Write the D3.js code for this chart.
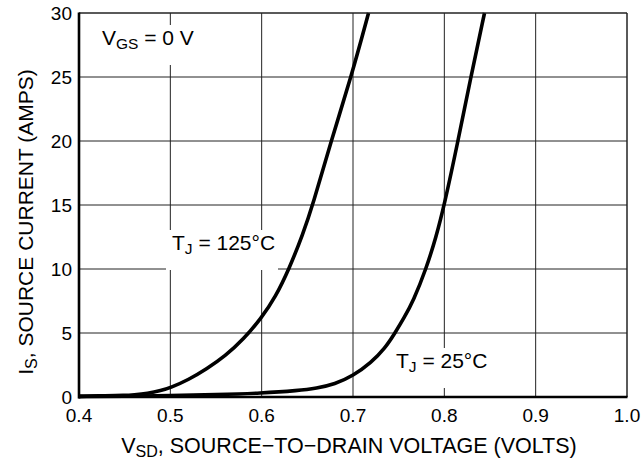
<!DOCTYPE html>
<html>
<head>
<meta charset="utf-8">
<script src="https://cdn.jsdelivr.net/npm/d3@7"></script>
<style>
  html, body { margin: 0; padding: 0; background: #fff; }
  svg { display: block; font-family: "Liberation Sans", Arial, Helvetica, sans-serif; }
</style>
</head>
<body>
<svg id="chart" width="644" height="462"></svg>
<script>
// ---- data ----
const xTicks = [0.4, 0.5, 0.6, 0.7, 0.8, 0.9, 1.0];
const xTickLabels = ["0.4", "0.5", "0.6", "0.7", "0.8", "0.9", "1.0"];
const yTicks = [0, 5, 10, 15, 20, 25, 30];
const yTickLabels = ["0", "5", "10", "15", "20", "25", "30"];

// T_J = 125°C
const vsd125 = [0.40, 0.43, 0.45, 0.46, 0.475, 0.49, 0.50, 0.52, 0.54, 0.56, 0.58, 0.60, 0.615, 0.63, 0.645, 0.656, 0.676, 0.698, 0.717];
const is125  = [0.08, 0.09, 0.12, 0.17, 0.28,  0.50, 0.72, 1.35, 2.2,  3.2,  4.5,  6.2,  7.8,   10,   12.7,  15,    20,    25,    30];

// T_J = 25°C
const vsd25 = [0.40, 0.45, 0.50, 0.55, 0.60, 0.64, 0.66, 0.68, 0.70, 0.72, 0.735, 0.746, 0.756, 0.766, 0.78, 0.791, 0.80, 0.815, 0.829, 0.844];
const is25  = [0.03, 0.05, 0.10, 0.18, 0.30, 0.50, 0.68, 1.0,  1.65, 2.7,  3.8,   5.0,   6.2,   7.5,   10,   12.5,  15,   20,    25,    30];

// ---- layout ----
const svg = d3.select("#chart");
const L = 79, R = 627, T = 13, B = 397;
const x = d3.scaleLinear().domain([0.4, 1.0]).range([L, R]);
const y = d3.scaleLinear().domain([0, 30]).range([B, T]);

// grid
const grid = svg.append("g");
grid.selectAll("line.v").data(xTicks.slice(1)).join("line")
  .attr("x1", d => x(d)).attr("x2", d => x(d))
  .attr("y1", T).attr("y2", B)
  .attr("stroke", "#222").attr("stroke-width", 1);
grid.selectAll("line.h").data(yTicks.slice(1)).join("line")
  .attr("x1", L).attr("x2", R)
  .attr("y1", d => y(d)).attr("y2", d => y(d))
  .attr("stroke", "#222").attr("stroke-width", 1);

// annotation boxes (mask grid lines)
function annot(xp, yp, main, sub, rest, boxW) {
  svg.append("rect").attr("x", xp - 6).attr("y", yp - 20).attr("width", boxW).attr("height", 40).attr("fill", "#fff");
  const t = svg.append("text").attr("x", xp).attr("y", yp).attr("font-size", 21).attr("fill", "#000");
  t.append("tspan").text(main);
  t.append("tspan").attr("font-size", 15.5).attr("dy", 4).text(sub);
  t.append("tspan").attr("dy", -4).text(rest);
}
annot(102, 45, "V", "GS", " = 0 V", 104);
annot(172, 250, "T", "J", " = 125°C", 112);
annot(396, 368, "T", "J", " = 25°C", 100);

// curves
const line = d3.line().x(d => x(d[0])).y(d => y(d[1])).curve(d3.curveBasis);
svg.append("path").datum(vsd125.map((v, i) => [v, is125[i]]))
  .attr("d", line).attr("fill", "none").attr("stroke", "#000").attr("stroke-width", 3.6).attr("stroke-linejoin", "round");
svg.append("path").datum(vsd25.map((v, i) => [v, is25[i]]))
  .attr("d", line).attr("fill", "none").attr("stroke", "#000").attr("stroke-width", 3.6).attr("stroke-linejoin", "round");

// frame
svg.append("line").attr("x1", L).attr("x2", R).attr("y1", T).attr("y2", T).attr("stroke", "#222").attr("stroke-width", 1);
svg.append("line").attr("x1", R).attr("x2", R).attr("y1", T).attr("y2", B).attr("stroke", "#222").attr("stroke-width", 1);
svg.append("line").attr("x1", L).attr("x2", L).attr("y1", T - 0.5).attr("y2", B + 1.5).attr("stroke", "#000").attr("stroke-width", 2.6);
svg.append("line").attr("x1", L - 1).attr("x2", R + 0.5).attr("y1", B).attr("y2", B).attr("stroke", "#000").attr("stroke-width", 2.6);

// tick labels
svg.append("g").selectAll("text").data(xTicks).join("text")
  .attr("x", d => x(d)).attr("y", 422)
  .attr("text-anchor", "middle").attr("font-size", 19).attr("fill", "#000")
  .text((d, i) => xTickLabels[i]);
svg.append("g").selectAll("text").data(yTicks).join("text")
  .attr("x", 72).attr("y", d => y(d) + 6.5)
  .attr("text-anchor", "end").attr("font-size", 19).attr("fill", "#000")
  .text((d, i) => yTickLabels[i]);

// axis titles
const xt = svg.append("text").attr("x", 349).attr("y", 453)
  .attr("text-anchor", "middle").attr("font-size", 21.5).attr("fill", "#000");
xt.append("tspan").text("V");
xt.append("tspan").attr("font-size", 16).attr("dy", 4).text("SD");
xt.append("tspan").attr("dy", -4).text(", SOURCE\u2212TO\u2212DRAIN VOLTAGE (VOLTS)");

const yt = svg.append("text").attr("transform", "translate(33,222) rotate(-90)")
  .attr("text-anchor", "middle").attr("font-size", 21).attr("fill", "#000");
yt.append("tspan").text("I");
yt.append("tspan").attr("font-size", 16).attr("dy", 4).text("S");
yt.append("tspan").attr("dy", -4).text(", SOURCE CURRENT (AMPS)");
</script>
</body>
</html>
